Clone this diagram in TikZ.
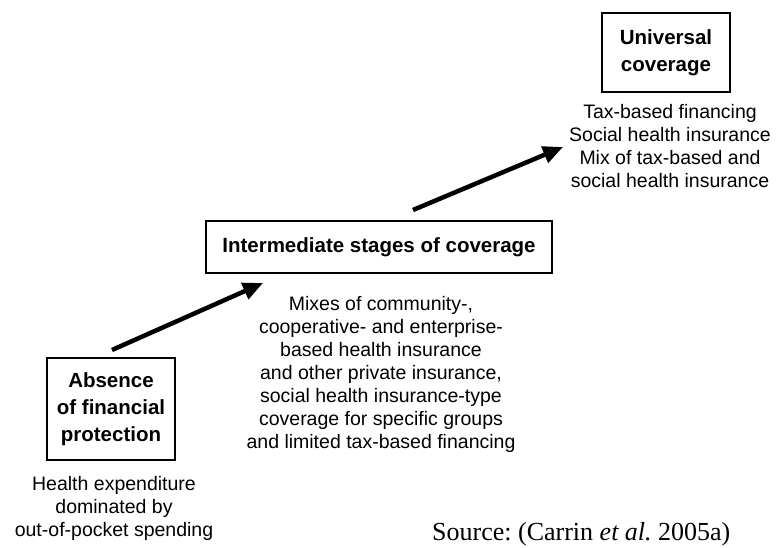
\documentclass[tikz,border=0pt]{standalone}
\usepackage{fontspec}
\setmainfont{Liberation Sans}
\newfontfamily\timesf{Liberation Serif}
\usetikzlibrary{arrows.meta}
\frenchspacing
\tikzset{
  stagebox/.style={draw=black, line width=1.8pt, align=center, inner sep=0pt,
    font=\bfseries\fontsize{20.5}{27}\selectfont},
  desc/.style={align=center, inner sep=0pt, font=\fontsize{19.5}{23}\selectfont},
  bigarrow/.style={line width=4.5pt, -{Triangle[length=20pt,width=17pt]}}
}
\begin{document}
\begin{tikzpicture}[x=1pt,y=-1pt]
\useasboundingbox (0,0) rectangle (778,548);
\clip (0,0) rectangle (778,548);
\fill[white] (0,0) rectangle (778,548);

\node[stagebox, minimum width=128pt, minimum height=102pt] (absence) at (111,409)
  {Absence\\of financial\\protection};
\node[stagebox, minimum width=346pt, minimum height=52pt] (inter) at (379,247)
  {Intermediate stages of coverage};
\node[stagebox, minimum width=128pt, minimum height=79pt] (univ) at (666,52.5)
  {Universal\\coverage};

\node[desc] (absdesc) at (114,508)
  {Health expenditure\\dominated by\\out-of-pocket spending};
\node[desc] (interdesc) at (381,374)
  {Mixes of community-,\\cooperative- and enterprise-\\based health insurance\\and other private insurance,\\social health insurance-type\\coverage for specific groups\\and limited tax-based financing};
\node[desc] (univdesc) at (670,146)
  {Tax-based financing\\Social health insurance\\Mix of tax-based and\\social health insurance};

\coordinate (a1s) at (112,350);
\coordinate (a1e) at (263,283);
\coordinate (a2s) at (413,210);
\coordinate (a2e) at (563,147);
\draw[bigarrow] (a1s) -- (a1e);
\draw[bigarrow] (a2s) -- (a2e);

\node[anchor=base west, inner sep=0pt, font=\timesf\fontsize{26}{30}\selectfont] (src) at (432,540)
  {Source: (Carrin \textit{et al.} 2005a)};
\end{tikzpicture}
\end{document}
